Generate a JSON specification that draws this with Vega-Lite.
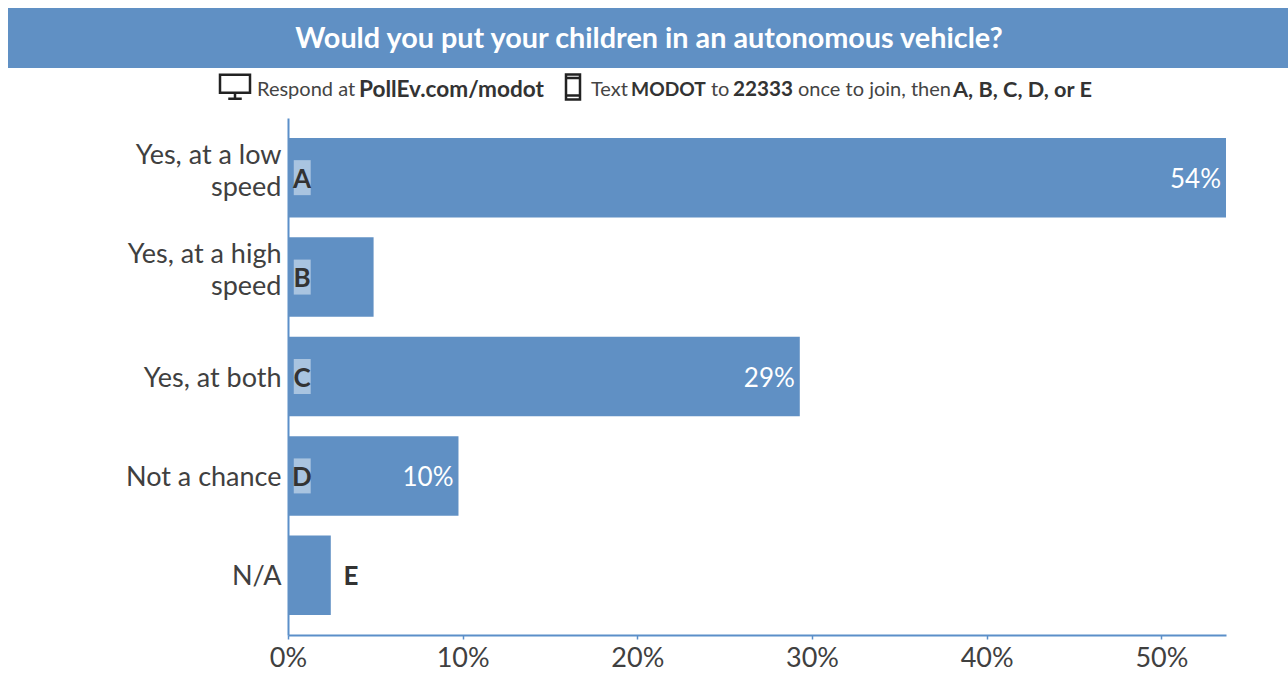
{
"$schema":"https://vega.github.io/schema/vega-lite/v6.json",
"background":"white",
"padding":{"left":8,"top":8,"right":0,"bottom":0},
"autosize":{"type":"pad"},
"spacing":0,
"bounds":"flush",
"config":{"view":{"stroke":null},"font":"Lato"},
"vconcat":[
{"width":1280,"height":60,"view":{"fill":"#6090c4","stroke":null},
 "data":{"values":[{"pos":641,"label":"Would you put your children in an autonomous vehicle?"}]},
 "mark":{"type":"text","font":"Lato","fontWeight":"bold","fontSize":28.8,"color":"white","dy":1},
 "encoding":{"x":{"field":"pos","type":"quantitative","scale":{"domain":[0,1280]},"axis":null},"text":{"field":"label"}}},
{"width":1280,"height":50,
 "layer":[
 {"data":{"values":[
  {"pos":249,"label":"Respond at "},
  {"pos":583,"label":"Text"},
  {"pos":703,"label":"to"},
  {"pos":790,"label":"once to join, then"}]},
  "mark":{"type":"text","align":"left","fontSize":20,"color":"#444444"},
  "encoding":{"x":{"field":"pos","type":"quantitative","scale":{"domain":[0,1280]},"axis":null},"y":{"datum":22,"type":"quantitative","scale":{"domain":[0,50],"reverse":true},"axis":null},"text":{"field":"label"}}},
 {"data":{"values":[{"pos":623,"label":"MODOT"}]},
  "mark":{"type":"text","align":"left","fontSize":19.2,"fontWeight":"bold","color":"#333333"},
  "encoding":{"x":{"field":"pos","type":"quantitative","scale":{"domain":[0,1280]},"axis":null},"y":{"datum":22,"type":"quantitative","scale":{"domain":[0,50],"reverse":true},"axis":null},"text":{"field":"label"}}},
 {"data":{"values":[{"pos":725,"label":"22333"}]},
  "mark":{"type":"text","align":"left","fontSize":20.7,"fontWeight":"bold","color":"#333333"},
  "encoding":{"x":{"field":"pos","type":"quantitative","scale":{"domain":[0,1280]},"axis":null},"y":{"datum":22,"type":"quantitative","scale":{"domain":[0,50],"reverse":true},"axis":null},"text":{"field":"label"}}},
 {"data":{"values":[{"pos":945,"label":"A, B, C, D, or E"}]},
  "mark":{"type":"text","align":"left","fontSize":21.7,"fontWeight":"bold","color":"#333333"},
  "encoding":{"x":{"field":"pos","type":"quantitative","scale":{"domain":[0,1280]},"axis":null},"y":{"datum":22,"type":"quantitative","scale":{"domain":[0,50],"reverse":true},"axis":null},"text":{"field":"label"}}},
 {"data":{"values":[{"pos":351,"label":"PollEv.com/modot"}]},
  "mark":{"type":"text","align":"left","fontSize":22.6,"fontWeight":"bold","color":"#333333"},
  "encoding":{"x":{"field":"pos","type":"quantitative","scale":{"domain":[0,1280]},"axis":null},"y":{"datum":22,"type":"quantitative","scale":{"domain":[0,50],"reverse":true},"axis":null},"text":{"field":"label"}}},
 {"data":{"values":[{"pos":227}]},
  "mark":{"type":"point","shape":"M-1,-0.75 H1 V0.45 H-1 Z M0,0.45 V0.8 M-0.45,0.85 H0.45","size":900,"filled":false,"opacity":1,"stroke":"#222222","strokeWidth":2.5},
  "encoding":{"x":{"field":"pos","type":"quantitative","scale":{"domain":[0,1280]},"axis":null},"y":{"datum":18,"type":"quantitative","scale":{"domain":[0,50],"reverse":true},"axis":null}}},
 {"data":{"values":[{"pos":565}]},
  "mark":{"type":"point","shape":"M-0.5,-0.9 H0.5 V0.9 H-0.5 Z M-0.5,-0.65 H0.5 M-0.5,0.6 H0.5","size":784,"filled":false,"opacity":1,"stroke":"#222222","strokeWidth":2.5},
  "encoding":{"x":{"field":"pos","type":"quantitative","scale":{"domain":[0,1280]},"axis":null},"y":{"datum":19,"type":"quantitative","scale":{"domain":[0,50],"reverse":true},"axis":null}}}
 ],
 "resolve":{"scale":{"x":"shared","y":"shared"}}},
{"width":1280,"height":517,
 "data":{"values":[
  {"option":"Yes, at a low speed","share":53.7,"letter":"A","pct":"54%","letterPos":0.8,"badgeStart":0.33,"badgeEnd":1.3},
  {"option":"Yes, at a high speed","share":4.9,"letter":"B","pct":"","letterPos":0.8,"badgeStart":0.33,"badgeEnd":1.3},
  {"option":"Yes, at both","share":29.3,"letter":"C","pct":"29%","letterPos":0.8,"badgeStart":0.33,"badgeEnd":1.3},
  {"option":"Not a chance","share":9.76,"letter":"D","pct":"10%","letterPos":0.8,"badgeStart":0.33,"badgeEnd":1.3},
  {"option":"N/A","share":2.45,"letter":"E","pct":"","letterPos":3.6}]},
 "encoding":{
  "y":{"field":"option","type":"nominal","sort":null,"title":null,
   "scale":{"padding":0.2},
   "axis":{"offset":-280,"domainColor":"#5b8fc9","domainWidth":2,"ticks":false,"labelFontSize":27,"labelColor":"#404040","labelPadding":7,"labelLimit":300,"labelLineHeight":32,
    "labelOffset":{"condition":{"test":"indexof(datum.value,'speed')>=0","value":-22},"value":2},
    "labelExpr":"datum.label=='Yes, at a low speed'?['Yes, at a low','speed']:datum.label=='Yes, at a high speed'?['Yes, at a high','speed']:datum.label"}}
 },
 "layer":[
  {"mark":{"type":"bar","color":"#6090c4"},
   "encoding":{"x":{"field":"share","type":"quantitative","title":null,
    "scale":{"domain":[0,53.7],"nice":false,"range":[280,1218]},
    "axis":{"values":[0,10,20,30,40,50],"labelExpr":"datum.value+'%'","labelFlush":false,"labelBound":false,"domainColor":"#5b8fc9","domainWidth":2,"tickColor":"#5b8fc9","tickSize":4,"tickWidth":1.5,"grid":false,"labelFontSize":27,"labelColor":"#404040","labelPadding":6}}}},
  {"transform":[{"filter":"datum.badgeStart!=null"}],
   "mark":{"type":"bar","color":"#a9c4e0","height":35},
   "encoding":{"x":{"field":"badgeStart","type":"quantitative"},"x2":{"field":"badgeEnd"}}},
  {"mark":{"type":"text","fontWeight":"bold","fontSize":26,"color":"#333333","dy":2},
   "encoding":{"x":{"field":"letterPos","type":"quantitative"},"text":{"field":"letter"}}},
  {"mark":{"type":"text","align":"right","dx":-5,"dy":2,"fontSize":26,"color":"white"},
   "encoding":{"x":{"field":"share","type":"quantitative"},"text":{"field":"pct"}}}
 ]}
]}
